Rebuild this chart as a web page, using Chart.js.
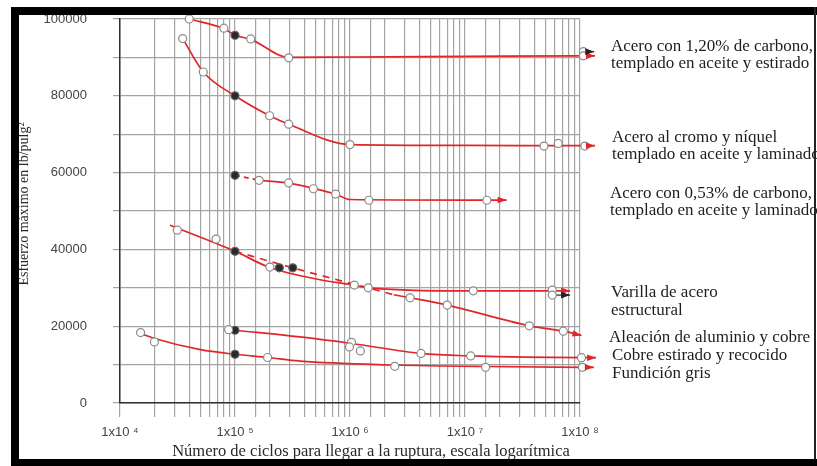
<!DOCTYPE html>
<html><head><meta charset="utf-8">
<script src="https://cdn.jsdelivr.net/npm/chart.js@4"></script>
<style>
html,body{margin:0;padding:0;background:#fff;}
#wrap{position:relative;width:817px;height:466px;overflow:hidden;background:#fff;}
canvas{position:absolute;left:0;top:0;}
.f{position:absolute;background:#000;}
</style></head><body>
<div id="wrap"><canvas id="c" width="817" height="466"></canvas>
<div class="f" style="left:11px;top:7px;width:806px;height:8px"></div>
<div class="f" style="left:11px;top:7px;width:8px;height:459px"></div>
<div class="f" style="left:814px;top:7px;width:2px;height:459px;background:#222"></div>
<div class="f" style="left:11px;top:459px;width:806px;height:7px"></div>
</div>
<script>
// ---- axis / tick data ----
const xMin = 1e4, xMax = 1e8;
const yMin = 0, yMax = 100000, yStep = 10000, yLabelStep = 20000;
const supDigits = {4:'\u2074',5:'\u2075',6:'\u2076',7:'\u2077',8:'\u2078'};

// ---- Acero con 1,20% de carbono ----
const a120Curve = [[4.0e4,100000],[8.0e4,97500],[1.0e5,95800],[1.37e5,94700],[2.93e5,90000],[1.0e6,90100],[1.0e7,90250],[1.0e8,90400],[1.35e8,90400]];
const a120Open = [[4.0e4,100000],[8.0e4,97600],[1.37e5,94800],[2.93e5,89900],[1.07e8,91500],[1.07e8,90400]];
const a120Dark = [[1.0e5,95750]];
const a120BlackArrow = [[1.1e8,91500],[1.33e8,91500]];

// ---- Acero al cromo y níquel ----
const crniCurve = [[3.51e4,94900],[5.3e4,86200],[1.0e5,80000],[2.0e5,74800],[2.93e5,72600],[1.0e6,67300],[1.0e7,67100],[1.0e8,67000],[1.35e8,67000]];
const crniOpen = [[3.51e4,94900],[5.3e4,86200],[2.0e5,74800],[2.93e5,72600],[1.0e6,67300],[4.86e7,66900],[6.47e7,67600],[1.1e8,66900]];
const crniDark = [[1.0e5,80000]];

// ---- Acero con 0,53% de carbono ----
const a053Dash = [[1.0e5,59300],[1.6e5,58050]];
const a053Curve = [[1.62e5,58000],[2.93e5,57250],[4.8e5,55900],[7.5e5,54400],[1.0e6,53000],[1.0e7,52850],[2.3e7,52850]];
const a053Open = [[1.62e5,58000],[2.93e5,57300],[4.8e5,55800],[7.5e5,54400],[1.46e6,52800],[1.55e7,52800]];
const a053Dark = [[1.0e5,59300]];

// ---- Varilla de acero estructural ----
const varUpper = [[2.72e4,46300],[1.0e5,39500],[2.0e5,35300],[5.5e5,32100],[1.09e6,30700],[1.44e6,30000],[1.0e7,29200],[8.2e7,29200]];
const varDash = [[1.0e5,39500],[3.18e5,35200],[2.4e6,28200]];
const varLower = [[2.4e6,28200],[3.33e6,27400],[7.0e6,25500],[3.62e7,20100],[7.16e7,18700],[1.03e8,17600]];
const varOpen = [[3.15e4,45000],[6.84e4,42700],[2.01e5,35400],[1.09e6,30700],[1.44e6,30000],[1.18e7,29200],[5.74e7,29400],[5.74e7,28100],[3.33e6,27400],[7.0e6,25500],[3.62e7,20100],[7.16e7,18700]];
const varDark = [[1.0e5,39500],[2.43e5,35200],[3.18e5,35200]];
const varBlackArrow = [[5.9e7,28100],[8.2e7,28100]];

// ---- Aleación de aluminio y cobre ----
const alCurve = [[1.0e5,18950],[3.67e5,17200],[1.03e6,15500],[4.14e6,12900],[1.12e7,12250],[1.03e8,11800],[1.38e8,11800]];
const alOpen = [[8.8e4,19100],[1.03e6,15800],[9.9e5,14600],[1.23e6,13550],[4.14e6,12900],[1.12e7,12250],[1.03e8,11800]];
const alDark = [[1.0e5,18950]];

// ---- Fundición gris ----
const fgCurve = [[1.55e4,18000],[2.0e4,16800],[5.0e4,13900],[1.0e5,12700],[1.92e5,11850],[3.67e5,10900],[2.45e6,9900],[1.5e7,9500],[1.05e8,9300],[1.32e8,9300]];
const fgOpen = [[1.51e4,18350],[1.99e4,15900],[1.92e5,11850],[2.45e6,9560],[1.51e7,9300],[1.05e8,9300]];
const fgDark = [[1.0e5,12700]];

// ---- right-hand labels (y in data units of first line) ----
const labelTexts = [
  ["Acero con 1,20% de carbono,","templado en aceite y estirado"],
  ["Acero al cromo y níquel","templado en aceite y laminado"],
  ["Acero con 0,53% de carbono,","templado en aceite y laminado"],
  ["Varilla de acero","estructural"],
  ["Aleación de aluminio y cobre"],
  ["Cobre estirado y recocido"],
  ["Fundición gris"]
];
const labelValues = [92960, 69250, 54650, 28670, 17120, 12430, 7740];
const labelOffsets = [0, 1, -1, 0, -2, 1, 1];
const xTitle = "Número de ciclos para llegar a la ruptura, escala logarítmica";
const yTitle = "Esfuerzo máximo en lb/pulg²";

const RED = '#e0262a';
const pts = a => a.map(p => ({x:p[0], y:p[1]}));

function lineDs(data, o = {}) {
  return {
    data: pts(data), showLine: true, order: 2, clip: false,
    arrowHead: o.arrow !== false,
    borderColor: o.color || RED, borderWidth: o.width || 1.7,
    borderDash: o.dash || [],
    cubicInterpolationMode: 'monotone',
    pointRadius: 0, pointHoverRadius: 0
  };
}
function markerDs(data, dark) {
  return {
    data: pts(data), showLine: false, order: 0, clip: false,
    pointStyle: 'circle', pointRadius: 4, pointHoverRadius: 4,
    pointBackgroundColor: dark ? '#2a2a2a' : '#ffffff',
    pointBorderColor: dark ? '#666' : '#8a8a8a',
    pointBorderWidth: 1.2
  };
}

const datasets = [
  lineDs(a120Curve), lineDs(a120BlackArrow, {color:'#222', width:1.2}),
  lineDs(crniCurve),
  lineDs(a053Dash, {dash:[5,4], arrow:false}), lineDs(a053Curve),
  lineDs(varUpper), lineDs(varDash, {dash:[7,6], arrow:false}), lineDs(varLower),
  lineDs(varBlackArrow, {color:'#222', width:1.2}),
  lineDs(alCurve), lineDs(fgCurve),
  markerDs(a120Open), markerDs(a120Dark, true),
  markerDs(crniOpen), markerDs(crniDark, true),
  markerDs(a053Open), markerDs(a053Dark, true),
  markerDs(varOpen), markerDs(varDark, true),
  markerDs(alOpen), markerDs(alDark, true),
  markerDs(fgOpen), markerDs(fgDark, true)
];

// arrowheads at the end of the curves, placed from the library's element positions
const arrowPlugin = {
  id: 'arrows',
  afterDatasetsDraw(chart) {
    const ctx = chart.ctx;
    chart.data.datasets.forEach((ds, i) => {
      if (!ds.arrowHead) return;
      const els = chart.getDatasetMeta(i).data;
      const n = els.length;
      if (n < 2) return;
      const a = els[n - 2], b = els[n - 1];
      const ang = Math.atan2(b.y - a.y, b.x - a.x);
      const L = 9, W = 3.3;
      ctx.save();
      ctx.translate(b.x, b.y);
      ctx.rotate(ang);
      ctx.beginPath();
      ctx.moveTo(0, 0);
      ctx.lineTo(-L, -W);
      ctx.lineTo(-L, W);
      ctx.closePath();
      ctx.fillStyle = ds.borderColor;
      ctx.fill();
      ctx.restore();
    });
  }
};

const textPlugin = {
  id: 'texts',
  afterDraw(chart) {
    const {ctx, chartArea, scales} = chart;
    ctx.save();
    ctx.fillStyle = '#1e1e1e';
    ctx.textBaseline = 'middle';
    ctx.textAlign = 'left';
    ctx.font = '17px "Liberation Serif", "Times New Roman", serif';
    labelTexts.forEach((lines, i) => {
      const y0 = scales.y.getPixelForValue(labelValues[i]);
      lines.forEach((t, j) => {
        ctx.fillText(t, chartArea.right + 31 + labelOffsets[i], y0 + j * 17.5);
      });
    });
    // x title
    ctx.font = '16.5px "Liberation Serif", "Times New Roman", serif';
    ctx.textAlign = 'center';
    ctx.fillStyle = '#2a2a2a';
    ctx.fillText(xTitle, chartArea.left + 251, 452);
    // y title
    ctx.translate(24, (chartArea.top + chartArea.bottom) / 2 - 7);
    ctx.rotate(-Math.PI / 2);
    ctx.font = '14px "Liberation Serif", "Times New Roman", serif';
    ctx.fillText(yTitle, 0, 0);
    ctx.restore();
  }
};

new Chart(document.getElementById('c'), {
  type: 'scatter',
  data: { datasets },
  options: {
    responsive: false, animation: false, devicePixelRatio: 1,
    layout: { padding: { left: 0, right: 237, top: 19, bottom: 0 } },
    plugins: { legend: { display: false }, tooltip: { enabled: false } },
    events: [],
    scales: {
      x: {
        type: 'logarithmic',
        afterDataLimits: s => { s.min = xMin; s.max = xMax; },
        afterFit: s => { s.height = 63; },
        grid: { color: '#a4a4a4', lineWidth: 1.2, tickLength: 14, drawTicks: true },
        border: { color: '#303030', width: 1.5 },
        ticks: {
          autoSkip: false, maxRotation: 0, minRotation: 0, padding: 8,
          color: '#444', font: { family: '"Liberation Sans", Arial, sans-serif', size: 13 },
          callback: v => {
            const e = Math.log10(v);
            const r = Math.round(e);
            return Math.abs(e - r) < 1e-9 ? '1x10 ' + supDigits[r] : '';
          }
        }
      },
      y: {
        type: 'linear', min: yMin, max: yMax,
        afterFit: s => { s.width = 120; s.paddingTop = 0; s.paddingBottom = 0; },
        grid: { color: '#a4a4a4', lineWidth: 1.2, tickLength: 7 },
        border: { color: '#303030', width: 1.5 },
        ticks: {
          stepSize: yStep, padding: 26,
          color: '#444', font: { family: '"Liberation Sans", Arial, sans-serif', size: 13 },
          callback: v => (v % yLabelStep === 0 ? String(v) : '')
        }
      }
    }
  },
  plugins: [arrowPlugin, textPlugin]
});
</script>
</body></html>
